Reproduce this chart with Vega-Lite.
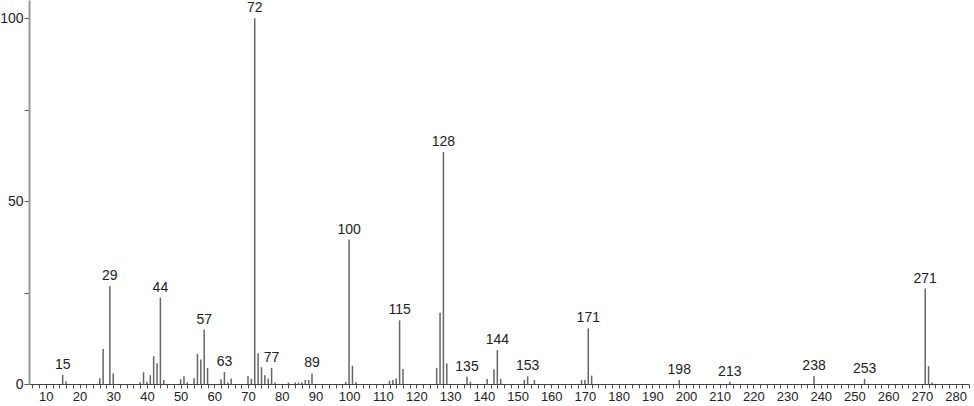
{
  "$schema": "https://vega.github.io/schema/vega-lite/v6.json",
  "width": 940,
  "height": 384,
  "autosize": "none",
  "padding": {"left": 29, "top": 0, "right": 5, "bottom": 22},
  "background": "white",
  "config": {"view": {"stroke": null}, "font": "Liberation Sans"},
  "data": {"values": [
    {"mz": 15, "ab": 2.5, "lab": "15"},
    {"mz": 16, "ab": 0.7, "lab": ""},
    {"mz": 26, "ab": 1.6, "lab": ""},
    {"mz": 27, "ab": 9.6, "lab": ""},
    {"mz": 29, "ab": 26.8, "lab": "29"},
    {"mz": 30, "ab": 2.9, "lab": ""},
    {"mz": 38, "ab": 0.5, "lab": ""},
    {"mz": 39, "ab": 3.2, "lab": ""},
    {"mz": 40, "ab": 0.6, "lab": ""},
    {"mz": 41, "ab": 2.4, "lab": ""},
    {"mz": 42, "ab": 7.6, "lab": ""},
    {"mz": 43, "ab": 5.7, "lab": ""},
    {"mz": 44, "ab": 23.6, "lab": "44"},
    {"mz": 45, "ab": 1.1, "lab": ""},
    {"mz": 50, "ab": 1.3, "lab": ""},
    {"mz": 51, "ab": 2.1, "lab": ""},
    {"mz": 52, "ab": 0.5, "lab": ""},
    {"mz": 54, "ab": 1.6, "lab": ""},
    {"mz": 55, "ab": 8.2, "lab": ""},
    {"mz": 56, "ab": 6.7, "lab": ""},
    {"mz": 57, "ab": 14.8, "lab": "57"},
    {"mz": 58, "ab": 4.4, "lab": ""},
    {"mz": 62, "ab": 1.3, "lab": ""},
    {"mz": 63, "ab": 3.3, "lab": "63"},
    {"mz": 64, "ab": 0.4, "lab": ""},
    {"mz": 65, "ab": 1.5, "lab": ""},
    {"mz": 70, "ab": 2.2, "lab": ""},
    {"mz": 71, "ab": 1.4, "lab": ""},
    {"mz": 72, "ab": 100, "lab": "72"},
    {"mz": 73, "ab": 8.4, "lab": ""},
    {"mz": 74, "ab": 4.6, "lab": ""},
    {"mz": 75, "ab": 2.4, "lab": ""},
    {"mz": 76, "ab": 1.5, "lab": ""},
    {"mz": 77, "ab": 4.4, "lab": "77"},
    {"mz": 78, "ab": 0.4, "lab": ""},
    {"mz": 82, "ab": 0.4, "lab": ""},
    {"mz": 84, "ab": 0.4, "lab": ""},
    {"mz": 85, "ab": 0.4, "lab": ""},
    {"mz": 86, "ab": 0.4, "lab": ""},
    {"mz": 87, "ab": 1.1, "lab": ""},
    {"mz": 88, "ab": 1.1, "lab": ""},
    {"mz": 89, "ab": 2.9, "lab": "89"},
    {"mz": 99, "ab": 0.6, "lab": ""},
    {"mz": 100, "ab": 39.5, "lab": "100"},
    {"mz": 101, "ab": 5.0, "lab": ""},
    {"mz": 102, "ab": 0.5, "lab": ""},
    {"mz": 112, "ab": 0.9, "lab": ""},
    {"mz": 113, "ab": 1.1, "lab": ""},
    {"mz": 114, "ab": 1.5, "lab": ""},
    {"mz": 115, "ab": 17.4, "lab": "115"},
    {"mz": 116, "ab": 4.1, "lab": ""},
    {"mz": 126, "ab": 4.4, "lab": ""},
    {"mz": 127, "ab": 19.5, "lab": ""},
    {"mz": 128, "ab": 63.4, "lab": "128"},
    {"mz": 129, "ab": 5.6, "lab": ""},
    {"mz": 135, "ab": 2.0, "lab": "135"},
    {"mz": 136, "ab": 0.6, "lab": ""},
    {"mz": 141, "ab": 1.4, "lab": ""},
    {"mz": 143, "ab": 4.0, "lab": ""},
    {"mz": 144, "ab": 9.3, "lab": "144"},
    {"mz": 145, "ab": 1.4, "lab": ""},
    {"mz": 152, "ab": 1.1, "lab": ""},
    {"mz": 153, "ab": 2.1, "lab": "153"},
    {"mz": 155, "ab": 1.1, "lab": ""},
    {"mz": 169, "ab": 1.1, "lab": ""},
    {"mz": 170, "ab": 1.1, "lab": ""},
    {"mz": 171, "ab": 15.2, "lab": "171"},
    {"mz": 172, "ab": 2.3, "lab": ""},
    {"mz": 198, "ab": 1.1, "lab": "198"},
    {"mz": 213, "ab": 0.6, "lab": "213"},
    {"mz": 238, "ab": 2.1, "lab": "238"},
    {"mz": 253, "ab": 1.4, "lab": "253"},
    {"mz": 271, "ab": 26.1, "lab": "271"},
    {"mz": 272, "ab": 4.9, "lab": ""},
    {"mz": 273, "ab": 0.4, "lab": ""}
  ]},
  "encoding": {
    "x": {
      "field": "mz", "type": "quantitative",
      "scale": {"domain": [5, 284], "nice": false, "zero": false},
      "axis": {
        "title": null, "grid": false,
        "values": [6,8,10,12,14,16,18,20,22,24,26,28,30,32,34,36,38,40,42,44,46,48,50,52,54,56,58,60,62,64,66,68,70,72,74,76,78,80,82,84,86,88,90,92,94,96,98,100,102,104,106,108,110,112,114,116,118,120,122,124,126,128,130,132,134,136,138,140,142,144,146,148,150,152,154,156,158,160,162,164,166,168,170,172,174,176,178,180,182,184,186,188,190,192,194,196,198,200,202,204,206,208,210,212,214,216,218,220,222,224,226,228,230,232,234,236,238,240,242,244,246,248,250,252,254,256,258,260,262,264,266,268,270,272,274,276,278,280,282,284],
        "labelExpr": "datum.value % 10 == 0 ? datum.label : ''",
        "labelFlush": false, "labelOverlap": false,
        "tickSize": 4, "tickColor": "#555", "domainColor": "#444", "domainWidth": 1,
        "labelFontSize": 13, "labelColor": "#222", "labelPadding": 2
      }
    },
    "y": {
      "field": "ab", "type": "quantitative",
      "scale": {"domain": [0, 105], "nice": false},
      "axis": {
        "title": null, "grid": false,
        "values": [0, 25, 50, 75, 100],
        "labelExpr": "datum.value % 50 == 0 ? datum.label : ''",
        "tickSize": 5, "tickColor": "#555", "domainColor": "#999", "domainWidth": 2,
        "labelFontSize": 14, "labelColor": "#222", "labelPadding": 1
      }
    }
  },
  "layer": [
    {"mark": {"type": "rule", "color": "#666", "strokeWidth": 1.5}, "encoding": {"y2": {"datum": 0}}},
    {"mark": {"type": "text", "baseline": "bottom", "dy": -3, "fontSize": 14, "color": "#222"}, "encoding": {"text": {"field": "lab"}}}
  ]
}
